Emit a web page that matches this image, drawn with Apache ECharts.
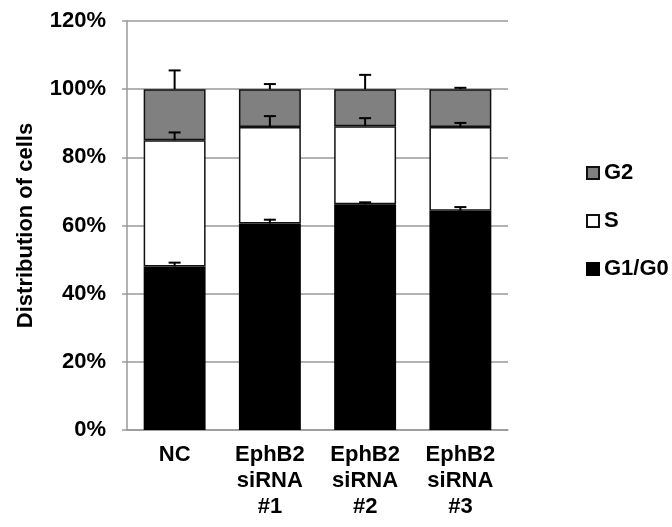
<!DOCTYPE html>
<html>
<head>
<meta charset="utf-8">
<script src="https://cdn.jsdelivr.net/npm/echarts@6/dist/echarts.min.js"></script>
<style>html,body{margin:0;padding:0;background:#fff;}#c{width:672px;height:527px;}</style>
</head>
<body>
<div id="c"></div>
<script>
var categories = ['NC', 'EphB2\nsiRNA\n#1', 'EphB2\nsiRNA\n#2', 'EphB2\nsiRNA\n#3'];
var g1Values = [48.0, 60.6, 66.2, 64.3];
var sValues = [37.0, 28.3, 22.9, 24.6];
var g2Values = [15.0, 11.1, 10.9, 11.1];
var g1Err = [1.1, 1.1, 0.6, 1.1];
var sErr = [2.3, 3.2, 2.4, 1.2];
var g2Err = [5.5, 1.5, 4.2, 0.4];
var yTicks = [0, 20, 40, 60, 80, 100, 120];

var FONT = '"Liberation Sans", Arial, sans-serif';
var FS = 22;

function errData(bases, vals, errs) {
  return vals.map(function (v, i) { return [i, bases[i] + v, errs[i]]; });
}
var zeros = g1Values.map(function () { return 0; });
var sBase = g1Values.slice();
var g2Base = g1Values.map(function (v, i) { return v + sValues[i]; });

function renderErr(params, api) {
  var x = api.value(0), top = api.value(1), e = api.value(2);
  var p0 = api.coord([x, top]);
  var p1 = api.coord([x, top + e]);
  var st = { stroke: '#000', lineWidth: 2 };
  return {
    type: 'group',
    children: [
      { type: 'line', shape: { x1: p0[0], y1: p0[1], x2: p1[0], y2: p1[1] }, style: st },
      { type: 'line', shape: { x1: p1[0] - 6, y1: p1[1], x2: p1[0] + 6, y2: p1[1] }, style: st }
    ]
  };
}

var chart = echarts.init(document.getElementById('c'));
chart.setOption({
  animation: false,
  backgroundColor: '#fff',
  grid: { left: 127, right: 164, top: 21, bottom: 97 },
  legend: {
    orient: 'vertical',
    left: 581,
    top: 157,
    itemGap: 26,
    itemWidth: 12,
    itemHeight: 12,
    icon: 'rect',
    data: ['G2', 'S', 'G1/G0'],
    textStyle: { fontFamily: FONT, fontWeight: 'bold', fontSize: FS, color: '#000' }
  },
  xAxis: {
    type: 'category',
    data: categories,
    axisLine: { lineStyle: { color: '#999', width: 1.5 } },
    axisTick: { show: false },
    axisLabel: { interval: 0, margin: 12, fontFamily: FONT, fontWeight: 'bold', fontSize: FS, lineHeight: 26, color: '#000' }
  },
  yAxis: {
    type: 'value',
    min: 0, max: 120, interval: 20,
    name: 'Distribution of cells',
    nameLocation: 'middle',
    nameGap: 90,
    nameRotate: 90,
    nameTextStyle: { fontFamily: FONT, fontWeight: 'bold', fontSize: FS, color: '#000' },
    axisLine: { show: true, lineStyle: { color: '#999', width: 1.5 } },
    axisTick: { show: true, length: 5, lineStyle: { color: '#999', width: 1.5 } },
    splitLine: { lineStyle: { color: '#999', width: 1.5 } },
    axisLabel: {
      margin: 21, fontFamily: FONT, fontWeight: 'bold', fontSize: FS, color: '#000',
      formatter: function (v) { return yTicks.indexOf(v) >= 0 ? v + '%' : ''; }
    }
  },
  series: [
    { name: 'G1/G0', type: 'bar', stack: 'a', data: g1Values, barCategoryGap: '35%',
      itemStyle: { color: '#000', borderColor: '#000', borderWidth: 1.5 } },
    { name: 'S', type: 'bar', stack: 'a', data: sValues,
      itemStyle: { color: '#fff', borderColor: '#111', borderWidth: 1.5 } },
    { name: 'G2', type: 'bar', stack: 'a', data: g2Values,
      itemStyle: { color: '#808080', borderColor: '#111', borderWidth: 1.5 } },
    { type: 'custom', renderItem: renderErr, data: errData(zeros, g1Values, g1Err), z: 5 },
    { type: 'custom', renderItem: renderErr, data: errData(sBase, sValues, sErr), z: 5 },
    { type: 'custom', renderItem: renderErr, data: errData(g2Base, g2Values, g2Err), z: 5 }
  ]
});
</script>
</body>
</html>
